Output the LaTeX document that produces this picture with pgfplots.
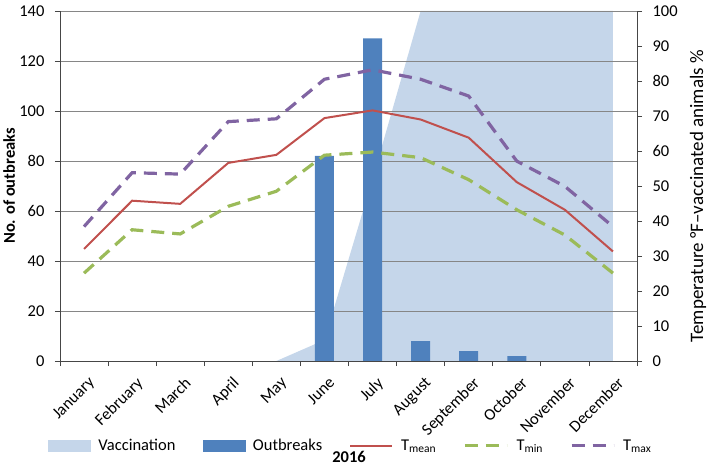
\documentclass[border=0pt]{standalone}
\usepackage{fontspec}
\setmainfont{Carlito}
\usepackage{pgfplots}
\pgfplotsset{compat=1.18}
\definecolor{vacc}{RGB}{197,214,234}
\definecolor{barc}{RGB}{79,129,189}
\definecolor{tmean}{RGB}{192,80,77}
\definecolor{tmin}{RGB}{155,187,89}
\definecolor{tmax}{RGB}{128,100,162}
\definecolor{gridc}{RGB}{134,134,134}
\definecolor{axc}{RGB}{70,70,70}
\pgfplotsset{
  base/.style={
    at={(60pt,105pt)}, anchor=south west,
    scale only axis, width=577pt, height=350pt,
    xmin=-0.5, xmax=11.5,
    font=\fontsize{16.5}{19}\selectfont,
    /pgf/number format/assume math mode=true,
    tick align=outside, major tick length=5pt,
    tick style={axc, line width=0.8pt},
    axis line style={-, axc, line width=0.8pt},
  }
}
\begin{document}
\begin{tikzpicture}
% vaccination area (right scale)
\begin{axis}[base, ymin=0, ymax=100, hide axis]
\addplot[fill=vacc, draw=none] coordinates {(0,0)(1,0)(2,0)(3,0)(4,0)(5,6)(6,52)(7,100)(8,100)(9,100)(10,100)(11,100)} \closedcycle;
\end{axis}
% outbreaks bars, grid, left axis
\begin{axis}[base, ymin=0, ymax=140, ytick={0,20,...,140},
  axis x line*=bottom, axis y line*=left,
  ymajorgrids, grid style={gridc, line width=0.8pt},
  xtick={0,...,11},
  xticklabels={January,February,March,April,May,June,July,August,September,October,November,December},
  x tick style={draw=none},
  xticklabel style={rotate=45, anchor=north east, xshift=-1pt, yshift=-6pt},
  yticklabel style={xshift=-7pt},
  ylabel={No. of outbreaks},
  ylabel style={font=\fontsize{16.5}{19}\selectfont\bfseries, at={(axis description cs:-0.088,0.5)}, anchor=center, rotate=0},
]
\addplot[ybar, bar width=19pt, fill=barc, draw=none] coordinates {(0,0)(1,0)(2,0)(3,0)(4,0)(5,82)(6,129)(7,8)(8,4)(9,2)(10,0)(11,0)};
\end{axis}
% temperature lines, right axis
\begin{axis}[base, ymin=0, ymax=100, ytick={0,10,...,100},
  axis x line*=bottom, axis y line*=right,
  xtick={-0.5,0.5,...,11.5}, xticklabels={},
  yticklabel style={xshift=7pt},
  ylabel={Temperature °F–vaccinated animals \%},
  ylabel style={font=\fontsize{19}{22}\selectfont, at={(axis description cs:1.106,0.471)}, anchor=center},
  legend columns=5,
  legend style={draw=none, fill=none, at={(rel axis cs:-0.021,-0.242)}, anchor=west, inner sep=0pt,
    font=\fontsize{16.5}{19}\selectfont,
    /tikz/every odd column/.append style={column sep=6pt},
    /tikz/every even column/.append style={column sep=25pt}},
]
\addplot[tmean, line width=2pt, forget plot] coordinates {(0,32.0)(1,45.8)(2,44.9)(3,56.6)(4,58.9)(5,69.4)(6,71.6)(7,69.0)(8,63.8)(9,51.1)(10,43.2)(11,31.3)};
\addplot[tmin, line width=3.2pt, dash pattern=on 13pt off 8pt, forget plot] coordinates {(0,25.1)(1,37.5)(2,36.3)(3,44.2)(4,48.5)(5,58.8)(6,59.7)(7,58.1)(8,51.8)(9,43.2)(10,36.0)(11,25.1)};
\addplot[tmax, line width=3.2pt, dash pattern=on 13pt off 8pt, forget plot] coordinates {(0,38.4)(1,53.8)(2,53.4)(3,68.4)(4,69.2)(5,80.5)(6,83.2)(7,80.5)(8,75.7)(9,57.1)(10,49.9)(11,38.4)};
\addlegendimage{legend image code/.code={\fill[vacc] (0pt,-5.5pt) rectangle (42pt,5.5pt);}}
\addlegendentry{Vaccination}
\addlegendimage{legend image code/.code={\fill[barc] (0pt,-5.5pt) rectangle (42pt,5.5pt);}}
\addlegendentry{Outbreaks}
\addlegendimage{legend image code/.code={\draw[tmean, line width=2pt] (0pt,0pt) -- (42pt,0pt);}}
\addlegendentry{T\textsubscript{mean}}
\addlegendimage{legend image code/.code={\draw[tmin, line width=3.2pt, dash pattern=on 13pt off 8pt] (0pt,0pt) -- (42pt,0pt);}}
\addlegendentry{T\textsubscript{min}}
\addlegendimage{legend image code/.code={\draw[tmax, line width=3.2pt, dash pattern=on 13pt off 8pt] (0pt,0pt) -- (42pt,0pt);}}
\addlegendentry{T\textsubscript{max}}
\end{axis}
\node[font=\fontsize{16.5}{19}\selectfont\bfseries] at (349pt,9pt) {2016};
\pgfresetboundingbox
\useasboundingbox (0pt,0pt) rectangle (709pt,466pt);
\end{tikzpicture}
\end{document}
